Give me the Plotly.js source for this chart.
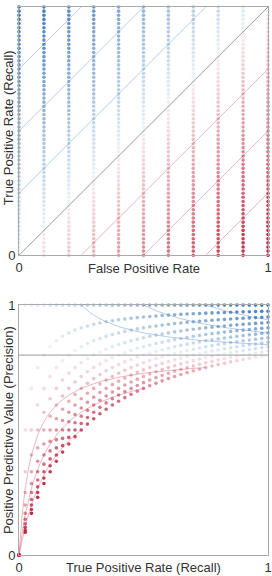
<!DOCTYPE html>
<html><head><meta charset="utf-8">
<script src="https://cdn.plot.ly/plotly-3.0.1.min.js"></script>
<style>html,body{margin:0;padding:0;background:#fff}</style>
</head><body><div id="chart" style="width:272px;height:576px"></div>
<script>
// ROC grid (top): false-positive counts out of 10 negatives, true-positive counts out of 60 positives
const rocNegatives = 10;
const rocPositives = 60;
const rocFpCounts = [0,1,2,3,4,5,6,7,8,9,10];
const rocTpCounts = [0,1,2,3,4,5,6,7,8,9,10,11,12,13,14,15,16,17,18,19,20,21,22,23,24,25,26,27,28,29,30,
  31,32,33,34,35,36,37,38,39,40,41,42,43,44,45,46,47,48,49,50,51,52,53,54,55,56,57,58,59,60];
// PR grid (bottom): 40 positives, 10 negatives
const prNegatives = 10;
const prPositives = 40;
const prFpCounts = [0,1,2,3,4,5,6,7,8,9,10];
const prTpCounts = [0,1,2,3,4,5,6,7,8,9,10,11,12,13,14,15,16,17,18,19,20,
  21,22,23,24,25,26,27,28,29,30,31,32,33,34,35,36,37,38,39,40];
// iso-lines of TPR - FPR
const isoOffsets = [0.75, 0.5, 0.25, -0.25, -0.5, -0.75];
const tickVals = [0, 1];
const tickText = ['0', '1'];

const BLUE = [52,114,178], RED = [188,30,58];
function colorFor(d){
  const a = Math.min(1, 0.08 + 0.92*Math.abs(d));
  const c = d >= 0 ? BLUE : RED;
  return 'rgba('+c[0]+','+c[1]+','+c[2]+','+a.toFixed(3)+')';
}
const BLUE_LINE = 'rgba(110,155,210,0.5)', RED_LINE = 'rgba(215,110,130,0.5)';

const traces = [];
// top iso lines
isoOffsets.forEach(d => {
  const xs = d > 0 ? [0, 1-d] : [-d, 1];
  const ys = d > 0 ? [d, 1] : [0, 1+d];
  traces.push({x:xs, y:ys, xaxis:'x', yaxis:'y', mode:'lines', hoverinfo:'skip',
    line:{width:1, color: d>0 ? BLUE_LINE : RED_LINE}});
});
traces.push({x:[0,1], y:[0,1], xaxis:'x', yaxis:'y', mode:'lines', hoverinfo:'skip', line:{width:1, color:'#999'}});

// bottom iso curves
const ratio = prPositives / prNegatives;
isoOffsets.forEach(d => {
  const xs = [], ys = [];
  const n = 60;
  for (let i = 0; i <= n; i++) {
    let t, f;
    if (d > 0) { t = d + (1-d)*i/n; f = t - d; }
    else { f = -d + (1+d)*i/n; t = f + d; }
    xs.push(t);
    ys.push(t === 0 ? 0 : ratio*t/(ratio*t + f));
  }
  traces.push({x:xs, y:ys, xaxis:'x2', yaxis:'y2', mode:'lines', hoverinfo:'skip',
    line:{width:1, color: d>0 ? BLUE_LINE : RED_LINE}});
});
traces.push({x:[0,1], y:[prPositives/(prPositives+prNegatives), prPositives/(prPositives+prNegatives)],
  xaxis:'x2', yaxis:'y2', mode:'lines', hoverinfo:'skip', line:{width:1, color:'#999'}});

// top points
{
  const xs=[], ys=[], cs=[];
  rocFpCounts.forEach(fp => rocTpCounts.forEach(tp => {
    const f = fp/rocNegatives, t = tp/rocPositives;
    xs.push(f); ys.push(t); cs.push(colorFor(t-f));
  }));
  traces.push({x:xs, y:ys, xaxis:'x', yaxis:'y', mode:'markers', cliponaxis:false, hoverinfo:'skip',
    marker:{size:3.6, color:cs, line:{width:0}}});
}
// bottom points
{
  const xs=[], ys=[], cs=[];
  prFpCounts.forEach(fp => prTpCounts.forEach(tp => {
    if (tp === 0 && fp === 0) return;
    const f = fp/prNegatives, t = tp/prPositives;
    xs.push(t); ys.push(tp/(tp+fp)); cs.push(colorFor(t-f));
  }));
  traces.push({x:xs, y:ys, xaxis:'x2', yaxis:'y2', mode:'markers', cliponaxis:false, hoverinfo:'skip',
    marker:{size:3.6, color:cs, line:{width:0}}});
}

const axBase = {range:[0,1], tickvals:tickVals, ticktext:tickText, showgrid:false, zeroline:false,
  showline:true, mirror:true, linecolor:'#aaa', linewidth:1, ticks:'', fixedrange:true,
  tickfont:{family:'Liberation Sans, Arial, sans-serif', size:13, color:'#333'}};
const tf = {family:'Liberation Sans, Arial, sans-serif', size:13, color:'#333'};
const layout = {
  width:272, height:576, margin:{l:19, r:4, t:7, b:21}, showlegend:false,
  paper_bgcolor:'#fff', plot_bgcolor:'#fff',
  xaxis: Object.assign({}, axBase, {domain:[0,1], anchor:'y'}),
  yaxis: Object.assign({}, axBase, {domain:[0.547,1], anchor:'x'}),
  xaxis2: Object.assign({}, axBase, {domain:[0,1], anchor:'y2'}),
  yaxis2: Object.assign({}, axBase, {domain:[0,0.456], anchor:'x2'}),
  annotations:[
    {text:'False Positive Rate', xref:'paper', yref:'paper', x:0.5, y:0.5237, xanchor:'center', yanchor:'middle', showarrow:false, font:tf},
    {text:'True Positive Rate (Recall)', xref:'paper', yref:'paper', x:-0.044, y:0.779, xanchor:'center', yanchor:'middle', textangle:-90, showarrow:false, font:tf},
    {text:'True Positive Rate (Recall)', xref:'paper', yref:'paper', x:0.5, y:-0.0237, xanchor:'center', yanchor:'middle', showarrow:false, font:tf},
    {text:'Positive Predictive Value (Precision)', xref:'paper', yref:'paper', x:-0.044, y:0.228, xanchor:'center', yanchor:'middle', textangle:-90, showarrow:false, font:tf}
  ]
};
Plotly.newPlot('chart', traces, layout, {displayModeBar:false, staticPlot:true});
</script></body></html>
